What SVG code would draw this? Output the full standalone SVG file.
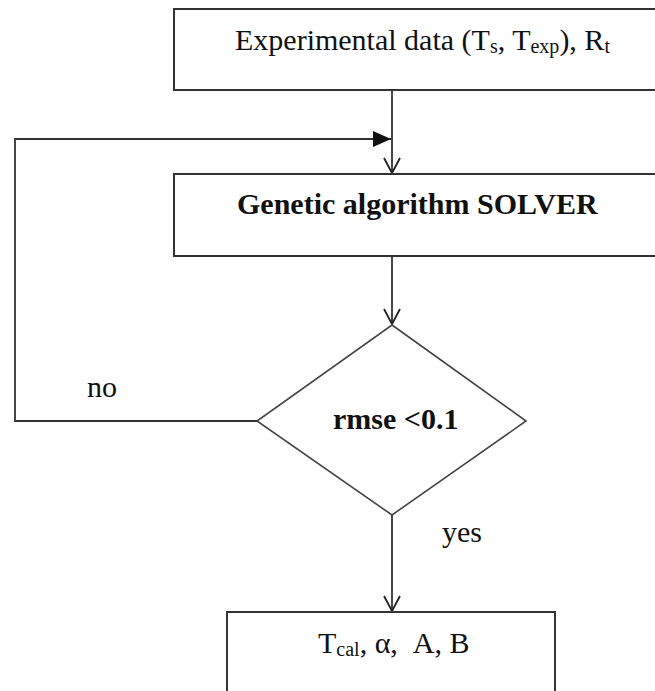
<svg xmlns="http://www.w3.org/2000/svg" width="655" height="691" viewBox="0 0 655 691">
<style>
.box{fill:#fff;stroke:#333;stroke-width:2}
.dia{fill:#fff;stroke:#444;stroke-width:1.6}
.ln{fill:none;stroke:#333;stroke-width:1.8}
.t{font-family:"Liberation Serif","Times New Roman",serif;font-size:30px;fill:#111}
.b{font-weight:bold}
.sub{font-size:20px}
</style>
<defs>
<marker id="open" viewBox="0 0 20 20" refX="18" refY="10" markerWidth="20" markerHeight="20" markerUnits="userSpaceOnUse" orient="auto">
<path d="M3,2 L18,10 L3,18" fill="none" stroke="#222" stroke-width="1.8"/>
</marker>
<marker id="fill" viewBox="0 0 20 20" refX="19" refY="10" markerWidth="20" markerHeight="20" markerUnits="userSpaceOnUse" orient="auto">
<path d="M1,2 L19,10 L1,18 Z" fill="#111"/>
</marker>
</defs>
<rect width="655" height="691" fill="#fff"/>
<g id="connectors">
<line class="ln" x1="392" y1="90" x2="392" y2="173" marker-end="url(#open)"/>
<polyline class="ln" points="257,421 15,421 15,139 391,139" marker-end="url(#fill)"/>
<line class="ln" x1="392" y1="256" x2="392" y2="324" marker-end="url(#open)"/>
<line class="ln" x1="392" y1="515" x2="392" y2="611" marker-end="url(#open)"/>
</g>
<g id="input">
<rect class="box" x="174" y="9" width="500" height="81"/>
<text class="t" x="235" y="50">Experimental data (T<tspan class="sub" dy="3">s</tspan><tspan dy="-3">, T</tspan><tspan class="sub" dy="3">exp</tspan><tspan dy="-3">), R</tspan><tspan class="sub" dy="3">t</tspan></text>
</g>
<g id="solver">
<rect class="box" x="174" y="174" width="500" height="82"/>
<text class="t b" x="237" y="214">Genetic algorithm SOLVER</text>
</g>
<g id="decision">
<polygon class="dia" points="392,325 526,421 392,515 257,421"/>
<text class="t b" x="333" y="429">rmse &lt;0.1</text>
</g>
<g id="labels">
<text class="t" x="87" y="397">no</text>
<text class="t" x="442" y="542">yes</text>
</g>
<g id="output">
<rect class="box" x="227" y="612" width="328" height="100"/>
<text class="t" x="318" y="653" xml:space="preserve">T<tspan class="sub" dy="3">cal</tspan><tspan dy="-3">, α,  A, B</tspan></text>
</g>
</svg>
